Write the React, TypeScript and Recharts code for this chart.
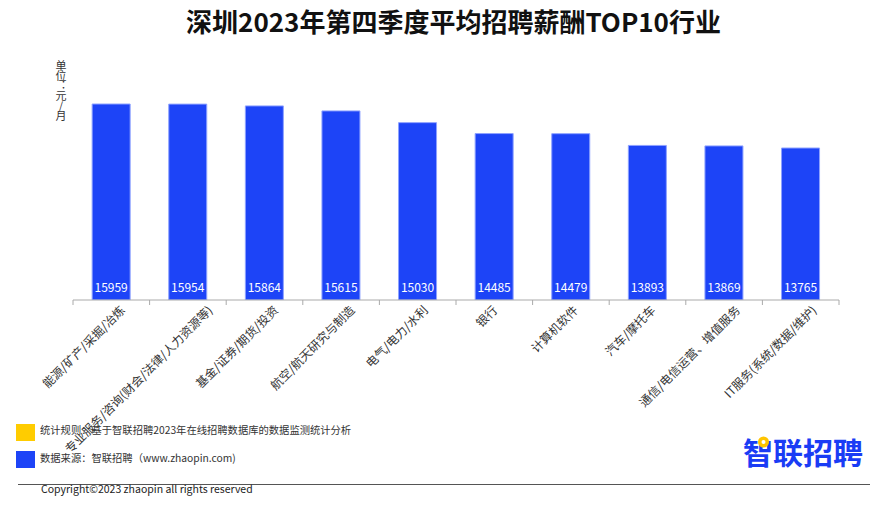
import React from "react";
import { BarChart, Bar, XAxis, YAxis, LabelList } from "recharts";

const categories = [
  "能源/矿产/采掘/冶炼",
  "专业服务/咨询(财会/法律/人力资源等)",
  "基金/证券/期货/投资",
  "航空/航天研究与制造",
  "电气/电力/水利",
  "银行",
  "计算机软件",
  "汽车/摩托车",
  "通信/电信运营、增值服务",
  "IT服务(系统/数据/维护)",
];
const salaries = [15959, 15954, 15864, 15615, 15030, 14485, 14479, 13893, 13869, 13765];

const data = categories.map((name, i) => ({ name, value: salaries[i] }));

const W = 886;
const H = 523;
const LEFT = 73;
const RIGHT = 47;
const TOP = 100;
const AXIS_Y = 300;
const BAND = (W - LEFT - RIGHT) / categories.length;
const FONT = '"Noto Sans CJK SC", "Noto Sans", sans-serif';

const units = (s: string) => {
  let u = 0;
  for (const ch of s) u += ch.charCodeAt(0) < 128 ? 0.55 : 1;
  return u;
};

const Tick = (props: any) => {
  const { x, y, payload, index } = props;
  const bx = x - BAND / 2;
  const off = 1.3 + 1.36 * units(String(payload.value));
  const tx = x + off;
  const ty = y + 11;
  return (
    <g>
      <line x1={bx} y1={y} x2={bx} y2={y + 5} stroke="#aaaaaa" />
      {index === categories.length - 1 && (
        <line x1={x + BAND / 2} y1={y} x2={x + BAND / 2} y2={y + 5} stroke="#aaaaaa" />
      )}
      <text
        x={tx}
        y={ty}
        transform={`rotate(-45 ${tx} ${ty})`}
        textAnchor="end"
        fontSize={12}
        fill="#333"
        fontFamily={FONT}
      >
        {payload.value}
      </text>
    </g>
  );
};

const ValueLabel = (props: any) => {
  const { x, y, width, height, value } = props;
  return (
    <text
      x={x + width / 2}
      y={y + height - 8.5}
      textAnchor="middle"
      fontSize={12}
      fill="#ffffff"
      fontFamily={FONT}
    >
      {value}
    </text>
  );
};

export default function App() {
  return (
    <div style={{ position: "relative", width: W, height: H, margin: -8, background: "#fff", fontFamily: FONT, overflow: "hidden" }}>
      <div style={{ position: "absolute", left: 0, width: 907, top: 2, textAlign: "center", fontSize: 26, fontWeight: 700, color: "#111", lineHeight: "38px" }}>
        深圳2023年第四季度平均招聘薪酬TOP10行业
      </div>
      <div style={{ position: "absolute", left: 54, top: 60, fontSize: 11, color: "#333", writingMode: "vertical-rl", textOrientation: "upright", lineHeight: "14px", letterSpacing: -1 }}>
        单位：元/月
      </div>
      <BarChart
        width={W}
        height={H}
        data={data}
        margin={{ top: TOP, right: RIGHT, left: LEFT, bottom: H - AXIS_Y - 100 }}
        barCategoryGap="25%"
      >
        <YAxis hide domain={[6184, 16159]} allowDataOverflow />
        <XAxis
          dataKey="name"
          height={100}
          interval={0}
          tickLine={false}
          tickSize={0}
          tickMargin={0}
          axisLine={{ stroke: "#aaaaaa" }}
          tick={<Tick />}
        />
        <Bar dataKey="value" fill="#1d44f7" stroke="#8ea2ff" strokeWidth={1} isAnimationActive={false}>
          <LabelList dataKey="value" content={<ValueLabel />} />
        </Bar>
      </BarChart>
      <div style={{ position: "absolute", left: 16, top: 424, width: 19, height: 17, background: "#ffcc00" }} />
      <div style={{ position: "absolute", left: 16, top: 451, width: 19, height: 17, background: "#1d44f7" }} />
      <div style={{ position: "absolute", left: 40, top: 422, fontSize: 10.3, color: "#333", whiteSpace: "nowrap", lineHeight: "16px" }}>
        统计规则：基于智联招聘2023年在线招聘数据库的数据监测统计分析
      </div>
      <div style={{ position: "absolute", left: 40, top: 449.5, fontSize: 10.3, color: "#333", whiteSpace: "nowrap", lineHeight: "16px" }}>
        数据来源：智联招聘（www.zhaopin.com)
      </div>
      <div style={{ position: "absolute", left: 743, top: 433, fontSize: 30, fontWeight: 700, color: "#1a3cf5", whiteSpace: "nowrap", lineHeight: "36px" }}>
        智联招聘
      </div>
      <svg style={{ position: "absolute", left: 0, top: 0 }} width={W} height={H} pointerEvents="none">
        <circle cx={763.5} cy={442} r={5.5} fill="#ffc400" />
        <circle cx={763.5} cy={442} r={2} fill="#ffffff" />
      </svg>
      <div style={{ position: "absolute", left: 18, top: 484, width: 852, height: 1, background: "#555" }} />
      <div style={{ position: "absolute", left: 41, top: 481, fontSize: 10.5, color: "#222", whiteSpace: "nowrap", lineHeight: "16px" }}>
        Copyright©2023 zhaopin all rights reserved
      </div>
      <div style={{ position: "absolute", left: 0, top: 521, width: W, height: 2, background: "#000" }} />
    </div>
  );
}
